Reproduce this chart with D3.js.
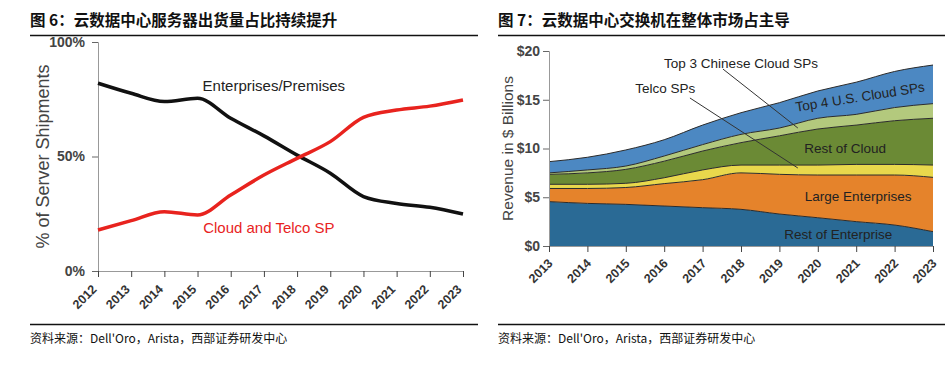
<!DOCTYPE html>
<html><head><meta charset="utf-8">
<script src="https://cdn.jsdelivr.net/npm/d3@7"></script>
<style>
html,body{margin:0;padding:0;background:#fff;}
svg text{font-family:"Liberation Sans",Arial,sans-serif;}
.cjk{font-family:"Noto Sans CJK SC","Liberation Sans",sans-serif !important;}
</style></head>
<body>
<svg id="c" width="950" height="368"></svg>
<script>
// ---------- data: chart 1 ----------
const years1 = [2012,2013,2014,2015,2016,2017,2018,2019,2020,2021,2022,2023];
const enterprisePct = [82,77.6,74,75.4,66.7,59,50.6,42.7,32.5,29.5,27.8,24.9];
const cloudPct = [17.9,22,25.9,24.5,33.2,41.9,49.2,56.5,67.1,70.3,72,74.7];
const pctTicks = [0,50,100];
const pctTickLabels = ["0%","50%","100%"];

// ---------- data: chart 2 ----------
const years2 = [2013,2014,2015,2016,2017,2018,2019,2020,2021,2022,2023];
const restEnterprise = [4.55,4.37,4.27,4.1,3.93,3.76,3.28,2.9,2.5,2.15,1.47];
const largeEnterprises = [1.35,1.53,1.73,2.3,2.87,3.74,4.07,4.38,4.78,5.13,5.57];
const telcoSPs = [0.43,0.43,0.43,0.6,1.0,0.8,0.95,1.02,1.09,1.09,1.26];
const restOfCloud = [1.02,1.17,1.43,1.7,1.94,2.3,3.0,3.7,4.03,4.48,4.8];
const top3Chinese = [0.15,0.3,0.34,0.53,0.66,0.85,0.8,1.1,1.1,1.35,1.5];
const top4US = [1.15,1.3,1.65,1.67,2.0,2.22,2.6,2.8,3.3,3.7,3.96];
const seriesNames = ["Rest of Enterprise","Large Enterprises","Telco SPs","Rest of Cloud","Top 3 Chinese Cloud SPs","Top 4 U.S. Cloud SPs"];
const revTicks = [0,5,10,15,20];
const revTickLabels = ["$0","$5","$10","$15","$20"];

const titles = ["图 6：云数据中心服务器出货量占比持续提升","图 7：云数据中心交换机在整体市场占主导"];
const source = "资料来源：Dell'Oro，Arista，西部证券研发中心";

const svg = d3.select("#c");

// headers / footers
[[30,478],[498,945]].forEach((r,i)=>{
  svg.append("text").attr("class","cjk").attr("x",r[0]).attr("y",26)
    .attr("font-size","15.5px").attr("font-weight","bold").attr("fill","#111").text(titles[i]);
  svg.append("line").attr("x1",r[0]).attr("x2",r[1]).attr("y1",35.5).attr("y2",35.5).attr("stroke","#111").attr("stroke-width",1.3);
  svg.append("line").attr("x1",r[0]).attr("x2",r[1]).attr("y1",324.5).attr("y2",324.5).attr("stroke","#111").attr("stroke-width",1.3);
  svg.append("text").attr("class","cjk").attr("x",r[0]).attr("y",343)
    .attr("font-size","12px").attr("fill","#111").text(source);
});

// ---------- chart 1 ----------
const x1 = d3.scaleLinear().domain([2012,2023]).range([98,463]);
const y1 = d3.scaleLinear().domain([0,100]).range([271,42]);
const g1 = svg.append("g");
const axisCol = "#999";

const ya1 = g1.append("g").attr("transform","translate(98,0)")
  .call(d3.axisLeft(y1).tickValues(pctTicks).tickFormat((d,i)=>pctTickLabels[i]).tickSizeOuter(0).tickSize(6));
ya1.select(".domain").attr("stroke",axisCol);
ya1.selectAll(".tick line").attr("stroke","#666");
ya1.selectAll(".tick text").attr("font-size","14px").attr("fill","#444").attr("font-weight","bold").attr("x",-13);

const xa1 = g1.append("g").attr("transform","translate(0,271)")
  .call(d3.axisBottom(x1).tickValues(years1).tickFormat(d3.format("d")).tickSizeOuter(0).tickSize(6));
xa1.select(".domain").attr("stroke",axisCol);
xa1.selectAll(".tick line").attr("stroke","#444");
xa1.selectAll(".tick text").attr("font-size","12.5px").attr("fill","#333").attr("font-weight","bold")
  .attr("text-anchor","end").attr("y",0).attr("dy",0)
  .attr("transform","translate(-1,19) rotate(-45)");

g1.append("text").attr("transform",`translate(43,${(y1(0)+y1(100))/2}) rotate(-90)`)
  .attr("text-anchor","middle").attr("dy","0.35em").attr("font-size","18px").attr("fill","#444").text("% of Server Shipments");

const line1 = d3.line().x((d,i)=>x1(years1[i])).y(d=>y1(d)).curve(d3.curveMonotoneX);
g1.append("path").attr("d",line1(enterprisePct)).attr("fill","none").attr("stroke","#111").attr("stroke-width",3.5);
g1.append("path").attr("d",line1(cloudPct)).attr("fill","none").attr("stroke","#e8231e").attr("stroke-width",3.5);

g1.append("text").attr("x",x1(2017.3)).attr("y",y1(80.8)).attr("dy","0.35em").attr("text-anchor","middle")
  .attr("font-size","15px").attr("fill","#222").text("Enterprises/Premises");
g1.append("text").attr("x",x1(2017.15)).attr("y",y1(18.8)).attr("dy","0.35em").attr("text-anchor","middle")
  .attr("font-size","15px").attr("fill","#e8231e").text("Cloud and Telco SP");

// ---------- chart 2 ----------
const x2 = d3.scaleLinear().domain([2013,2023]).range([549,933]);
const y2 = d3.scaleLinear().domain([0,20]).range([246,51]);
const g2 = svg.append("g");

const table = years2.map((yr,i)=>({year:yr,
  [seriesNames[0]]:restEnterprise[i],[seriesNames[1]]:largeEnterprises[i],[seriesNames[2]]:telcoSPs[i],
  [seriesNames[3]]:restOfCloud[i],[seriesNames[4]]:top3Chinese[i],[seriesNames[5]]:top4US[i]}));
const stacked = d3.stack().keys(seriesNames)(table);
const colors = ["#2a6a95","#e5832b","#e9d84c","#6b8a35","#b3c97d","#4c88c2"];
const area = d3.area().x(d=>x2(d.data.year)).y0(d=>y2(d[0])).y1(d=>y2(d[1])).curve(d3.curveMonotoneX);
const topLine = d3.line().x(d=>x2(d.data.year)).y(d=>y2(d[1])).curve(d3.curveMonotoneX);
g2.selectAll("path.area").data(stacked).join("path").attr("class","area")
  .attr("d",area).attr("fill",(d,i)=>colors[i]);
g2.selectAll("path.edge").data(stacked).join("path").attr("class","edge")
  .attr("d",topLine).attr("fill","none").attr("stroke","#2b2b2b").attr("stroke-width",1);

const ya2 = g2.append("g").attr("transform","translate(549,0)")
  .call(d3.axisLeft(y2).tickValues(revTicks).tickFormat((d,i)=>revTickLabels[i]).tickSizeOuter(0).tickSize(6));
ya2.select(".domain").attr("stroke",axisCol);
ya2.selectAll(".tick line").attr("stroke","#666");
ya2.selectAll(".tick text").attr("font-size","14px").attr("fill","#444").attr("font-weight","bold").attr("x",-9);

const xa2 = g2.append("g").attr("transform","translate(0,246)")
  .call(d3.axisBottom(x2).tickValues(years2).tickFormat(d3.format("d")).tickSizeOuter(0).tickSize(6));
xa2.select(".domain").attr("stroke",axisCol);
xa2.selectAll(".tick line").attr("stroke","#444");
xa2.selectAll(".tick text").attr("font-size","12.5px").attr("fill","#333").attr("font-weight","bold")
  .attr("text-anchor","end").attr("y",0).attr("dy",0)
  .attr("transform","translate(4,18) rotate(-45)");

g2.append("text").attr("transform",`translate(508,${(y2(0)+y2(20))/2}) rotate(-90)`)
  .attr("text-anchor","middle").attr("dy","0.35em").attr("font-size","15.5px").attr("fill","#444").text("Revenue in $ Billions");

// leader lines
const leaders = [[2017.53,18.15,2019.48,12.1],[2016.67,15.18,2019.48,8.0]];
leaders.forEach(l=>g2.append("line").attr("x1",x2(l[0])).attr("y1",y2(l[1])).attr("x2",x2(l[2])).attr("y2",y2(l[3]))
  .attr("stroke","#333").attr("stroke-width",1));

const labels2 = [
  {t:"Top 3 Chinese Cloud SPs",x:2018.0,y:18.75,r:0},
  {t:"Telco SPs",x:2016.03,y:16.2,r:0},
  {t:"Top 4 U.S. Cloud SPs",x:2021.1,y:15.3,r:-9},
  {t:"Rest of Cloud",x:2020.71,y:10.05,r:0},
  {t:"Large Enterprises",x:2021.05,y:5.13,r:0},
  {t:"Rest of Enterprise",x:2020.53,y:1.23,r:0}
];
labels2.forEach(l=>g2.append("text").attr("transform",`translate(${x2(l.x)},${y2(l.y)}) rotate(${l.r})`)
  .attr("text-anchor","middle").attr("dy","0.35em").attr("font-size","13.5px").attr("fill","#222").text(l.t));
</script>
</body></html>
